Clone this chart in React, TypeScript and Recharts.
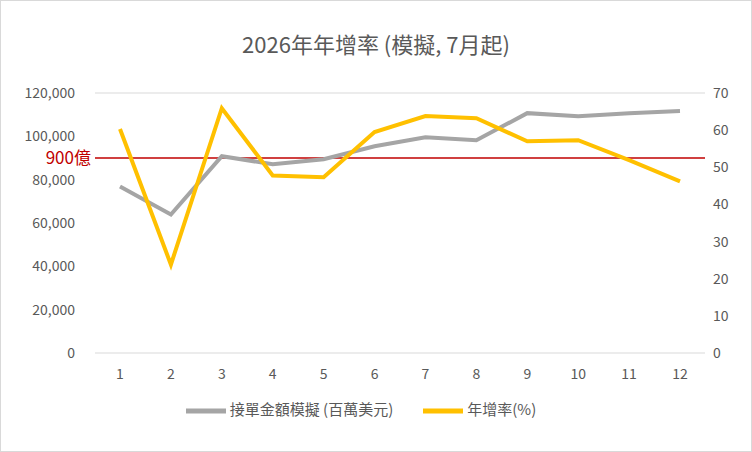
import { LineChart, Line, XAxis, YAxis, CartesianGrid, Legend, ReferenceLine } from "recharts";

const months = ["1", "2", "3", "4", "5", "6", "7", "8", "9", "10", "11", "12"];
const orders = [76900, 63900, 90800, 87100, 89400, 95400, 99600, 98200, 110700, 109300, 110700, 111700];
const growth = [60.3, 23.8, 65.9, 47.8, 47.3, 59.5, 63.8, 63.2, 57.0, 57.3, 51.9, 46.2];
const leftTicks = [0, 20000, 40000, 60000, 80000, 100000, 120000];
const rightTicks = [0, 10, 20, 30, 40, 50, 60, 70];

const data = months.map((m, i) => ({ m, orders: orders[i], growth: growth[i] }));

const FONT = "'Noto Sans CJK TC', 'Noto Sans', sans-serif";
const TICK = { fontSize: 14, fill: "#595959", fontFamily: FONT };

export default function App() {
  return (
    <div style={{ position: "absolute", left: 0, top: 0, width: 752, height: 452, background: "#fff", boxSizing: "border-box", border: "1px solid #d9d9d9", fontFamily: FONT }}>
      <div style={{ position: "absolute", top: 26, width: "100%", textAlign: "center", fontSize: 22, color: "#595959" }}>
        2026年年增率 (模擬, 7月起)
      </div>
      <LineChart width={750} height={450} data={data} margin={{ top: 92, right: 0, bottom: 30, left: 0 }}>
        <CartesianGrid vertical={false} stroke="#d9d9d9" />
        <XAxis dataKey="m" tick={TICK} axisLine={false} tickLine={false} height={38} tickMargin={10} padding={{ left: 25, right: 25 }} />
        <YAxis yAxisId="l" domain={[0, 120000]} ticks={leftTicks} tick={TICK} axisLine={false} tickLine={false} width={94}
          tickFormatter={(v: number) => v.toLocaleString("en-US")} tickMargin={14} />
        <YAxis yAxisId="r" orientation="right" domain={[0, 70]} ticks={rightTicks} tick={TICK} axisLine={false} tickLine={false} width={46} />
        <ReferenceLine yAxisId="l" y={90000} stroke="#c00000" strokeWidth={1.5}
          label={{ value: "900億", position: "left", fill: "#c00000", fontSize: 17, fontFamily: FONT, offset: 4 }} />
        <Legend verticalAlign="bottom" height={30} iconType="plainline" iconSize={40}
          itemSorter={(item: any) => (item.dataKey === "orders" ? 0 : 1)}
          formatter={(v: string) => <span style={{ color: "#595959", marginRight: 20 }}>{v}</span>}
          wrapperStyle={{ fontSize: 15, fontFamily: FONT }} />
        <Line yAxisId="l" dataKey="orders" name="接單金額模擬 (百萬美元)" stroke="#a5a5a5" strokeWidth={4} dot={false} isAnimationActive={false} />
        <Line yAxisId="r" dataKey="growth" name="年增率(%)" stroke="#ffc000" strokeWidth={4} dot={false} isAnimationActive={false} />
      </LineChart>
    </div>
  );
}
